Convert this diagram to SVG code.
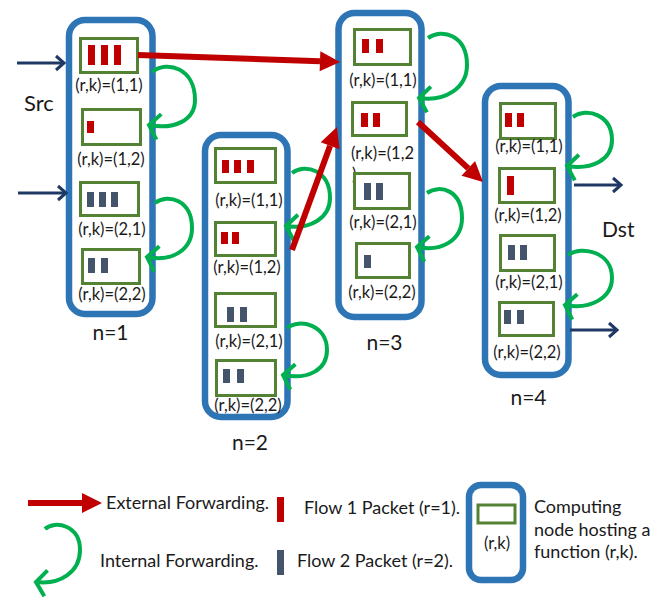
<svg xmlns="http://www.w3.org/2000/svg" width="656" height="604" viewBox="0 0 656 604">
  <style>
    .node { fill: #ffffff; stroke: #2E75B6; stroke-width: 6.5; }
    .fn { fill: #ffffff; stroke: #548235; stroke-width: 3; }
    .p1 { fill: #C00000; }
    .p2 { fill: #44546A; }
    .lbl { font-family: Lato, "Liberation Sans", sans-serif; font-size: 16.5px; fill: #1a1a1a; text-anchor: middle; }
    .nlbl { font-family: Lato, "Liberation Sans", sans-serif; font-size: 21px; fill: #1a1a1a; text-anchor: middle; }
    .txt { font-family: Lato, "Liberation Sans", sans-serif; font-size: 18px; fill: #1a1a1a; }
    .ext { stroke: #C00000; stroke-width: 6; fill: none; marker-end: url(#redHead); }
    .int { stroke: #00B050; stroke-width: 4; fill: none; marker-end: url(#greenHead); }
    .io { stroke: #1F3864; stroke-width: 3; fill: none; marker-end: url(#navyHead); }
  </style>
  <defs>
    <marker id="redHead" markerUnits="userSpaceOnUse" viewBox="0 -10 20 20" markerWidth="20" markerHeight="20" refX="0" refY="0" orient="auto" overflow="visible">
      <path d="M0,-10 L20,0 L0,10 Z" fill="#C00000"/>
    </marker>
    <marker id="greenHead" markerUnits="userSpaceOnUse" viewBox="-14 -16 18 32" markerWidth="18" markerHeight="32" refX="0" refY="0" orient="auto" overflow="visible">
      <path d="M-10,-13 L0,0 L-10,13" fill="none" stroke="#00B050" stroke-width="4" stroke-linejoin="miter"/>
    </marker>
    <marker id="navyHead" markerUnits="userSpaceOnUse" viewBox="-11 -10 14 20" markerWidth="14" markerHeight="20" refX="0" refY="0" orient="auto" overflow="visible">
      <path d="M-8,-7 L0,0 L-8,7" fill="none" stroke="#1F3864" stroke-width="3" stroke-linejoin="miter"/>
    </marker>
  </defs>

  <rect x="0" y="0" width="656" height="604" fill="#ffffff"/>

  <!-- Node n=1 -->
  <g id="node-n1">
    <rect class="node" x="69" y="20" width="83.5" height="294" rx="16"/>
    <rect class="fn" x="80.5" y="38.5" width="57" height="34"/>
    <rect class="p1" x="88" y="45" width="7" height="20"/>
    <rect class="p1" x="101" y="45" width="7" height="20"/>
    <rect class="p1" x="114" y="45" width="7" height="20"/>
    <text class="lbl" x="109" y="91">(r,k)=(1,1)</text>
    <rect class="fn" x="82.5" y="109.5" width="58" height="35"/>
    <rect class="p1" x="87" y="121" width="7" height="12"/>
    <text class="lbl" x="111" y="165">(r,k)=(1,2)</text>
    <rect class="fn" x="80.5" y="182.5" width="58" height="33"/>
    <rect class="p2" x="87" y="192" width="7" height="15"/>
    <rect class="p2" x="99" y="192" width="7" height="15"/>
    <rect class="p2" x="111" y="192" width="7" height="15"/>
    <text class="lbl" x="112" y="235">(r,k)=(2,1)</text>
    <rect class="fn" x="82.5" y="249.5" width="57" height="34"/>
    <rect class="p2" x="88" y="258" width="7" height="15"/>
    <rect class="p2" x="101" y="258" width="7" height="15"/>
    <text class="lbl" x="112" y="300">(r,k)=(2,2)</text>
    <text class="nlbl" x="110.5" y="340">n=1</text>
  </g>

  <!-- Node n=2 -->
  <g id="node-n2">
    <rect class="node" x="205" y="135" width="82.5" height="282" rx="16"/>
    <rect class="fn" x="215.5" y="148.5" width="60" height="34"/>
    <rect class="p1" x="222" y="160" width="7" height="13"/>
    <rect class="p1" x="234" y="160" width="7" height="13"/>
    <rect class="p1" x="247" y="160" width="7" height="13"/>
    <text class="lbl" x="249" y="206">(r,k)=(1,1)</text>
    <rect class="fn" x="215.5" y="222.5" width="60" height="33"/>
    <rect class="p1" x="221" y="232" width="7" height="12"/>
    <rect class="p1" x="232" y="232" width="7" height="12"/>
    <text class="lbl" x="247" y="273">(r,k)=(1,2)</text>
    <rect class="fn" x="215.5" y="293.5" width="60" height="33"/>
    <rect class="p2" x="227" y="307" width="7" height="15"/>
    <rect class="p2" x="240" y="307" width="7" height="15"/>
    <text class="lbl" x="249" y="347">(r,k)=(2,1)</text>
    <rect class="fn" x="216.5" y="360.5" width="59" height="35"/>
    <rect class="p2" x="223" y="369" width="7" height="14"/>
    <rect class="p2" x="237" y="369" width="7" height="14"/>
    <text class="lbl" x="248" y="411">(r,k)=(2,2)</text>
    <text class="nlbl" x="250" y="450">n=2</text>
  </g>

  <!-- Node n=3 -->
  <g id="node-n3">
    <rect class="node" x="338.5" y="13" width="83" height="304" rx="16"/>
    <rect class="fn" x="354.5" y="29.5" width="56" height="35"/>
    <rect class="p1" x="362" y="39" width="7" height="14"/>
    <rect class="p1" x="376" y="39" width="7" height="14"/>
    <text class="lbl" x="383" y="86">(r,k)=(1,1)</text>
    <rect class="fn" x="352.5" y="102.5" width="54" height="33"/>
    <rect class="p1" x="361" y="113" width="7" height="14"/>
    <rect class="p1" x="373" y="113" width="7" height="14"/>
    <!-- wrapped label: the closing bracket falls onto the next line, under the box below -->
    <text class="lbl" x="351" y="159" style="text-anchor:start">(r,k)=(1,2</text>
    <text class="lbl" x="352" y="180" style="text-anchor:start">)</text>
    <rect class="fn" x="354.5" y="173.5" width="55" height="35"/>
    <rect class="p2" x="364" y="183" width="7" height="17"/>
    <rect class="p2" x="376" y="183" width="7" height="17"/>
    <text class="lbl" x="383" y="228">(r,k)=(2,1)</text>
    <rect class="fn" x="356.5" y="243.5" width="53" height="34"/>
    <rect class="p2" x="364" y="255" width="7" height="13"/>
    <text class="lbl" x="382" y="298">(r,k)=(2,2)</text>
    <text class="nlbl" x="384.5" y="350">n=3</text>
  </g>

  <!-- Node n=4 -->
  <g id="node-n4">
    <rect class="node" x="485" y="86" width="83.5" height="289" rx="16"/>
    <rect class="fn" x="500.5" y="103.5" width="55" height="35"/>
    <rect class="p1" x="505" y="113" width="7" height="14"/>
    <rect class="p1" x="517" y="113" width="7" height="14"/>
    <text class="lbl" x="529" y="152">(r,k)=(1,1)</text>
    <rect class="fn" x="499.5" y="168.5" width="55" height="34"/>
    <rect class="p1" x="507" y="176" width="7" height="19"/>
    <text class="lbl" x="528" y="221">(r,k)=(1,2)</text>
    <rect class="fn" x="500.5" y="235.5" width="54" height="35"/>
    <rect class="p2" x="508" y="245" width="7" height="15"/>
    <rect class="p2" x="520" y="245" width="7" height="15"/>
    <text class="lbl" x="529" y="288">(r,k)=(2,1)</text>
    <rect class="fn" x="499.5" y="302.5" width="54" height="33"/>
    <rect class="p2" x="504" y="310" width="7" height="14"/>
    <rect class="p2" x="517" y="310" width="7" height="14"/>
    <text class="lbl" x="527" y="358">(r,k)=(2,2)</text>
    <text class="nlbl" x="528.5" y="405">n=4</text>
  </g>

  <!-- Source and destination labels -->
  <g id="src">
    <text class="nlbl" x="24" y="111" style="font-size:22px;text-anchor:start">Src</text>
  </g>
  <g id="dst">
    <text class="nlbl" x="602" y="237" style="text-anchor:start">Dst</text>
  </g>

  <!-- Connectors -->
  <g id="connectors">
    <!-- arrivals and departures -->
    <line class="io" x1="17" y1="63" x2="64" y2="63"/>
    <line class="io" x1="18" y1="193" x2="66" y2="193"/>
    <line class="io" x1="574" y1="185" x2="621" y2="185"/>
    <line class="io" x1="570" y1="330" x2="617" y2="330"/>

    <!-- internal forwarding inside a node -->
    <path class="int" d="M152,72 C167,60 195,68 195,100 C195,120 175,130 149,125"/>
    <path class="int" d="M155,203 C168,193 192,200 192,228 C192,250 172,262 147,257"/>
    <path class="int" d="M292,173 C305,163 330,170 330,198 C330,218 310,230 286,226"/>
    <path class="int" d="M287,328 C300,318 327,325 327,350 C327,370 308,380 283,375"/>
    <path class="int" d="M428,38 C442,28 467,35 467,65 C467,88 445,102 419,98"/>
    <path class="int" d="M427,193 C440,184 462,190 462,218 C462,240 442,252 417,247"/>
    <path class="int" d="M573,117 C587,107 612,115 612,140 C612,160 592,170 567,166"/>
    <path class="int" d="M568,255 C582,245 612,252 612,278 C612,298 590,310 565,305"/>

    <!-- external forwarding between nodes -->
    <line class="ext" x1="138" y1="55" x2="320" y2="61.3"/>
    <line class="ext" x1="292" y1="250" x2="330.1" y2="145.8"/>
    <line class="ext" x1="418" y1="122" x2="468.3" y2="168.4"/>
  </g>

  <!-- Legend -->
  <g id="legend">
    <line class="ext" x1="28" y1="503" x2="82" y2="503"/>
    <text class="txt" x="106" y="509">External Forwarding.</text>
    <path class="int" d="M45,529 C55,520 80,525 80,550 C80,572 60,585 36,582"/>
    <text class="txt" x="100" y="567">Internal Forwarding.</text>
    <rect class="p1" x="277" y="497" width="7" height="25"/>
    <text class="txt" x="304" y="514">Flow 1 Packet (r=1).</text>
    <rect class="p2" x="277" y="550" width="7" height="25"/>
    <text class="txt" x="297" y="567">Flow 2 Packet (r=2).</text>
    <rect class="node" x="469" y="485" width="54" height="95" rx="12"/>
    <rect class="fn" x="478" y="505" width="37" height="18"/>
    <text class="lbl" x="497" y="549">(r,k)</text>
    <text class="txt" x="534" y="513">Computing</text>
    <text class="txt" x="534" y="536">node hosting a</text>
    <text class="txt" x="534" y="558">function (r,k).</text>
  </g>
</svg>
